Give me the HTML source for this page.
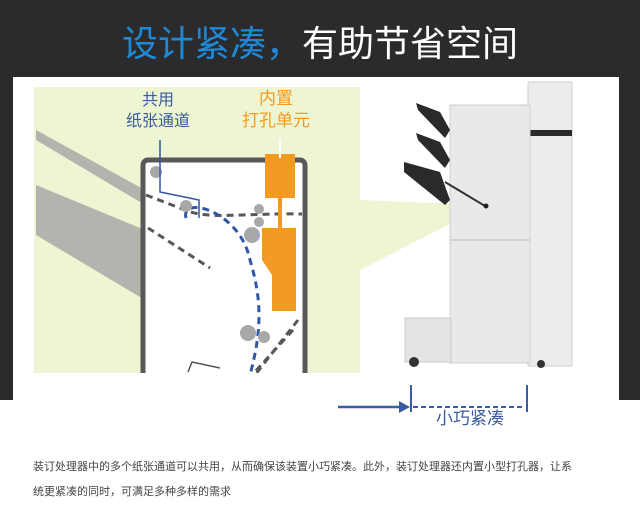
<!DOCTYPE html>
<html><head><meta charset="utf-8"><style>
html,body{margin:0;padding:0;width:640px;height:510px;overflow:hidden;background:#fff;font-family:"Liberation Sans","Noto Sans CJK SC",sans-serif}
.t{position:absolute;white-space:nowrap}
</style></head><body>
<div style="position:absolute;left:0;top:0;width:640px;height:400px;background:#2b2b2e"></div>
<div style="position:absolute;left:13px;top:77px;width:606px;height:323px;background:#fff"></div>
<div style="position:absolute;left:0;top:400px;width:640px;height:110px;background:#fff"></div>
<div class="t" style="left:0;width:640px;top:21px;text-align:center;font-size:36px;color:#fff;line-height:46px"><span style="color:#1e8ad6">设计紧凑，</span>有助节省空间</div>
<svg style="position:absolute;left:0;top:0" width="640" height="510">
<defs><clipPath id="c"><rect x="34" y="87" width="326" height="286"/></clipPath></defs>
<rect x="34" y="87" width="326" height="286" fill="#eef5d2"/>
<polygon points="360,200 487,205 360,270" fill="#eef5d2"/>
<g clip-path="url(#c)">
<polygon points="36,130 145,190 145,205 36,140" fill="#b4b4ae"/>
<polygon points="36,185 145,230 145,300 36,235" fill="#b4b4ae"/>
<rect x="143" y="160" width="162" height="240" rx="5" fill="#fff" stroke="#58585a" stroke-width="5"/>
<g stroke="#58585a" stroke-width="3" stroke-dasharray="7,5" fill="none">
<path d="M146,195 L185,210 C210,220 240,213 302,214"/>
<path d="M148,228 L210,268"/>
<path d="M298,320 L255,375"/><path d="M293,330 L252,375"/>
</g>
<g stroke="#2f57a6" stroke-width="3" stroke-dasharray="7,5" fill="none">
<path d="M186,218 C180,195 240,210 250,260 C262,300 262,330 250,375"/>
</g>
<path d="M188,372 L192,362 L220,368" stroke="#555" stroke-width="1.5" fill="none"/>
</g>
<g fill="#a8a8a8"><circle cx="156" cy="172" r="6"/><circle cx="186" cy="206" r="6"/><circle cx="259" cy="209" r="5"/><circle cx="259" cy="222" r="5"/><circle cx="252" cy="235" r="8"/><circle cx="248" cy="333" r="8"/><circle cx="264" cy="337" r="6"/></g>
<rect x="265" y="154" width="30" height="44" fill="#f39a22"/>
<rect x="278" y="198" width="4" height="30" fill="#f39a22"/>
<polygon points="262,228 296,228 296,311 272,311 272,275 262,260" fill="#f39a22"/>
<path d="M280,138 V158" stroke="#fff" stroke-width="2"/>
<path d="M160,140 V192 L199,200 V218" stroke="#2f57a6" stroke-width="1.5" fill="none"/>
<rect x="528" y="82" width="44" height="284" fill="#ececec" stroke="#cfcfcf"/>
<rect x="528" y="130" width="44" height="6" fill="#2a2a2a"/>
<rect x="450" y="105" width="80" height="258" fill="#e9e9e9" stroke="#cfcfcf"/>
<line x1="450" y1="240" x2="530" y2="240" stroke="#bbb"/>
<rect x="405" y="318" width="46" height="44" fill="#e4e4e4" stroke="#ccc"/>
<polygon points="416,103 440,112 450,130 445,138 418,110" fill="#2a2a2a"/>
<polygon points="416,133 440,142 450,160 445,168 418,140" fill="#2a2a2a"/>
<polygon points="404,162 440,172 450,200 445,205 404,172" fill="#2a2a2a"/>
<line x1="445" y1="182" x2="485" y2="206" stroke="#333" stroke-width="2"/>
<circle cx="486" cy="206" r="2.5" fill="#222"/>
<circle cx="414" cy="362" r="5" fill="#333"/><circle cx="541" cy="364" r="4" fill="#333"/>
<path d="M338,407 H400" stroke="#3a5ca3" stroke-width="2.5"/>
<polygon points="399,401 410,407 399,413" fill="#3a5ca3"/>
<path d="M411,385 V412 M527,385 V412" stroke="#3a5ca3" stroke-width="2"/>
<path d="M413,407 H525" stroke="#3a5ca3" stroke-width="2" stroke-dasharray="5,3"/>
</svg>
<div class="t" style="left:118px;top:90px;width:80px;text-align:center;font-size:16px;line-height:21px;color:#3b5b9c">共用<br>纸张通道</div>
<div class="t" style="left:236px;top:88px;width:80px;text-align:center;font-size:17px;line-height:22px;color:#f39a22">内置<br>打孔单元</div>
<div class="t" style="left:436px;top:404px;font-size:17px;color:#3b5b9c">小巧紧凑</div>
<div class="t" style="left:33px;top:455px;font-size:11px;line-height:25px;color:#444">装订处理器中的多个纸张通道可以共用，从而确保该装置小巧紧凑。此外，装订处理器还内置小型打孔器，让系<br>统更紧凑的同时，可满足多种多样的需求</div>
</body></html>
